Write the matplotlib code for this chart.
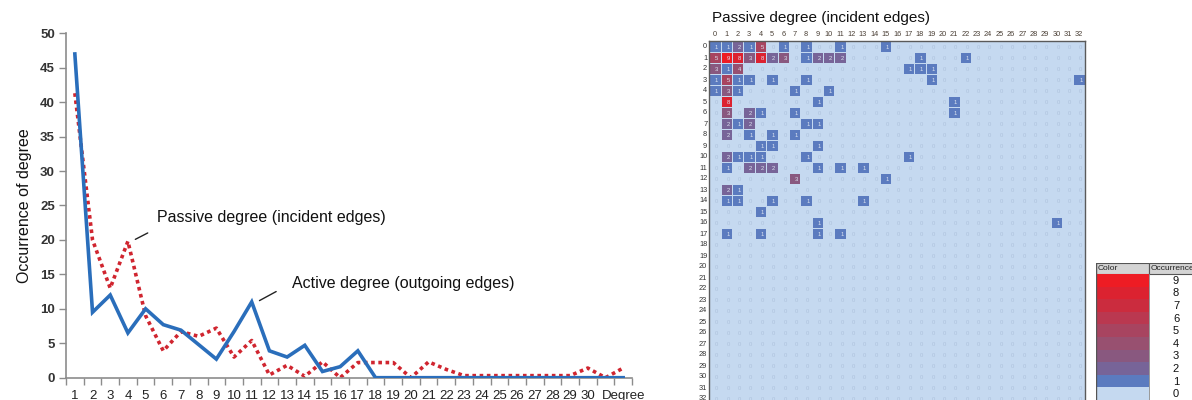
import numpy as np
import matplotlib
matplotlib.use("Agg")
import matplotlib.pyplot as plt
from matplotlib.colors import ListedColormap, BoundaryNorm
from matplotlib.patches import Rectangle

plt.rcParams['font.family'] = ['Liberation Sans', 'DejaVu Sans']

# ---------------- data: degree distribution ----------------
degree_labels = [str(i) for i in range(1, 31)] + ['', 'Degree']
active_degree = [47, 9.5, 12, 6.5, 10, 7.7, 6.9, 4.8, 2.7, 6.7, 11, 3.9, 3.0, 4.7, 0.9, 1.6,
                 3.9, 0, 0, 0, 0, 0, 0, 0, 0, 0, 0, 0, 0, 0, 0, 0]
passive_degree = [41.3, 20, 13, 19.8, 9, 3.9, 6.7, 6.0, 7.2, 3.0, 5.4, 0.4, 1.8, 0.2, 2.3, 0,
                  2.2, 2.2, 2.2, 0, 2.3, 1.2, 0.3, 0.3, 0.3, 0.3, 0.3, 0.3, 0.3, 1.4, 0, 1.4]

# ---------------- data: heatmap (rows: active degree, cols: passive degree) ----------------
heat_rows = [
    [1,1,2,1,5,0,1,0,1,0,0,1,0,0,0,1,0,0,0,0,0,0,0,0,0,0,0,0,0,0,0,0,0],
    [5,9,8,3,8,2,3,0,1,2,2,2,0,0,0,0,0,0,1,0,0,0,1,0,0,0,0,0,0,0,0,0,0],
    [3,1,4,0,0,0,0,0,0,0,0,0,0,0,0,0,0,1,1,1,0,0,0,0,0,0,0,0,0,0,0,0,0],
    [1,5,1,1,0,1,0,0,1,0,0,0,0,0,0,0,0,0,0,1,0,0,0,0,0,0,0,0,0,0,0,0,1],
    [1,3,1,0,0,0,0,1,0,0,1,0,0,0,0,0,0,0,0,0,0,0,0,0,0,0,0,0,0,0,0,0,0],
    [0,8,0,0,0,0,0,0,0,1,0,0,0,0,0,0,0,0,0,0,0,1,0,0,0,0,0,0,0,0,0,0,0],
    [0,3,0,2,1,0,0,1,0,0,0,0,0,0,0,0,0,0,0,0,0,1,0,0,0,0,0,0,0,0,0,0,0],
    [0,2,1,2,0,0,0,0,1,1,0,0,0,0,0,0,0,0,0,0,0,0,0,0,0,0,0,0,0,0,0,0,0],
    [0,2,0,1,0,1,0,1,0,0,0,0,0,0,0,0,0,0,0,0,0,0,0,0,0,0,0,0,0,0,0,0,0],
    [0,0,0,0,1,1,0,0,0,1,0,0,0,0,0,0,0,0,0,0,0,0,0,0,0,0,0,0,0,0,0,0,0],
    [0,2,1,1,1,0,0,0,1,0,0,0,0,0,0,0,0,1,0,0,0,0,0,0,0,0,0,0,0,0,0,0,0],
    [0,1,0,2,2,2,0,0,0,1,0,1,0,1,0,0,0,0,0,0,0,0,0,0,0,0,0,0,0,0,0,0,0],
    [0,0,0,0,0,0,0,3,0,0,0,0,0,0,0,1,0,0,0,0,0,0,0,0,0,0,0,0,0,0,0,0,0],
    [0,2,1,0,0,0,0,0,0,0,0,0,0,0,0,0,0,0,0,0,0,0,0,0,0,0,0,0,0,0,0,0,0],
    [0,1,1,0,0,1,0,0,1,0,0,0,0,1,0,0,0,0,0,0,0,0,0,0,0,0,0,0,0,0,0,0,0],
    [0,0,0,0,1,0,0,0,0,0,0,0,0,0,0,0,0,0,0,0,0,0,0,0,0,0,0,0,0,0,0,0,0],
    [0,0,0,0,0,0,0,0,0,1,0,0,0,0,0,0,0,0,0,0,0,0,0,0,0,0,0,0,0,0,1,0,0],
    [0,1,0,0,1,0,0,0,0,1,0,1,0,0,0,0,0,0,0,0,0,0,0,0,0,0,0,0,0,0,0,0,0],
    [0,0,0,0,0,0,0,0,0,0,0,0,0,0,0,0,0,0,0,0,0,0,0,0,0,0,0,0,0,0,0,0,0],
    [0,0,0,0,0,0,0,0,0,0,0,0,0,0,0,0,0,0,0,0,0,0,0,0,0,0,0,0,0,0,0,0,0],
    [0,0,0,0,0,0,0,0,0,0,0,0,0,0,0,0,0,0,0,0,0,0,0,0,0,0,0,0,0,0,0,0,0],
    [0,0,0,0,0,0,0,0,0,0,0,0,0,0,0,0,0,0,0,0,0,0,0,0,0,0,0,0,0,0,0,0,0],
    [0,0,0,0,0,0,0,0,0,0,0,0,0,0,0,0,0,0,0,0,0,0,0,0,0,0,0,0,0,0,0,0,0],
    [0,0,0,0,0,0,0,0,0,0,0,0,0,0,0,0,0,0,0,0,0,0,0,0,0,0,0,0,0,0,0,0,0],
    [0,0,0,0,0,0,0,0,0,0,0,0,0,0,0,0,0,0,0,0,0,0,0,0,0,0,0,0,0,0,0,0,0],
    [0,0,0,0,0,0,0,0,0,0,0,0,0,0,0,0,0,0,0,0,0,0,0,0,0,0,0,0,0,0,0,0,0],
    [0,0,0,0,0,0,0,0,0,0,0,0,0,0,0,0,0,0,0,0,0,0,0,0,0,0,0,0,0,0,0,0,0],
    [0,0,0,0,0,0,0,0,0,0,0,0,0,0,0,0,0,0,0,0,0,0,0,0,0,0,0,0,0,0,0,0,0],
    [0,0,0,0,0,0,0,0,0,0,0,0,0,0,0,0,0,0,0,0,0,0,0,0,0,0,0,0,0,0,0,0,0],
    [0,0,0,0,0,0,0,0,0,0,0,0,0,0,0,0,0,0,0,0,0,0,0,0,0,0,0,0,0,0,0,0,0],
    [0,0,0,0,0,0,0,0,0,0,0,0,0,0,0,0,0,0,0,0,0,0,0,0,0,0,0,0,0,0,0,0,0],
    [0,0,0,0,0,0,0,0,0,0,0,0,0,0,0,0,0,0,0,0,0,0,0,0,0,0,0,0,0,0,0,0,0],
    [0,0,0,0,0,0,0,0,0,0,0,0,0,0,0,0,0,0,0,0,0,0,0,0,0,0,0,0,0,0,0,0,0],
]
heat_col_labels = [str(i) for i in range(33)]
heat_row_labels = [str(i) for i in range(33)]

legend_values = [9, 8, 7, 6, 5, 4, 3, 2, 1, 0]
level_colors = ['#C5D9F0', '#5B7BBF', '#776498', '#89587F', '#985070', '#A84460',
                '#BA3850', '#CB2C3E', '#DC2230', '#EE1C24']  # for 0..9

# ---------------- figure ----------------
W, H = 1192, 400
fig = plt.figure(figsize=(W / 100, H / 100), dpi=100)

def px_axes(x0, y0, x1, y1):
    return fig.add_axes([x0 / W, 1 - y1 / H, (x1 - x0) / W, (y1 - y0) / H])

# ---------------- left: line chart ----------------
ax = px_axes(66, 33.3, 632, 377.7)
x = np.arange(1, len(degree_labels) + 1)
ax.plot(x, active_degree, color='#2A6EBB', lw=2.6, solid_joinstyle='miter', zorder=3)
ax.plot(x, passive_degree, color='#D0252F', lw=2.6, linestyle=(0, (1.0, 1.0)),
        dash_capstyle='butt', zorder=2)

ax.set_xlim(0.5, len(degree_labels) + 0.5)
ax.set_ylim(0, 50)
ax.set_yticks(np.arange(0, 51, 5))
ax.set_xticks(x)
ax.set_xticklabels(degree_labels)
ax.set_xticks(np.arange(0.5, len(degree_labels) + 1, 1), minor=True)
ax.tick_params(axis='x', which='major', length=0, pad=9, labelsize=9.5, colors='#222222')
ax.tick_params(axis='x', which='minor', length=5, width=1, color='#8C8C8C', direction='out')
ax.tick_params(axis='y', length=5, width=1, color='#8C8C8C', labelsize=9.5,
               labelcolor='#333333', pad=3)
for lab in ax.get_yticklabels():
    lab.set_fontweight('bold')
for s in ['top', 'right']:
    ax.spines[s].set_visible(False)
for s in ['left', 'bottom']:
    ax.spines[s].set_color('#8C8C8C')
    ax.spines[s].set_linewidth(1.2)
ax.set_ylabel('Occurrence of degree', fontsize=11.5, color='#111111', labelpad=6)
ax.patch.set_alpha(0)

ax.annotate('', xy=(4.28, 19.9), xytext=(5.26, 21.2),
            arrowprops=dict(arrowstyle='-', color='#222222', lw=1))
ax.text(5.65, 23.3, 'Passive degree (incident edges)', fontsize=11.5, color='#111111',
        va='center', ha='left')
ax.annotate('', xy=(11.3, 11.0), xytext=(12.52, 12.7),
            arrowprops=dict(arrowstyle='-', color='#222222', lw=1))
ax.text(13.3, 13.7, 'Active degree (outgoing edges)', fontsize=11.5, color='#111111',
        va='center', ha='left')

# ---------------- right: heatmap ----------------
mat = np.array(heat_rows)
nr, nc = mat.shape
hx0, hy0 = 709.3, 40.5
cw, ch = 11.38, 11.0
hax = px_axes(hx0, hy0, hx0 + nc * cw, hy0 + nr * ch)
cmap = ListedColormap(level_colors)
norm = BoundaryNorm(np.arange(-0.5, 10.5, 1), cmap.N)
hax.pcolormesh(np.arange(nc + 1) - 0.5, np.arange(nr + 1) - 0.5, mat, cmap=cmap, norm=norm,
               edgecolors='#C5D9F0', linewidth=0.4)
hax.set_xlim(-0.5, nc - 0.5)
hax.set_ylim(nr - 0.5, -0.5)
for r in range(nr):
    for c in range(nc):
        v = mat[r, c]
        hax.text(c + 0.15, r + 0.1, str(v), ha='center', va='center', fontsize=4.2,
                 color=('#AEC2DC' if v == 0 else '#DCE3F0'))
hax.xaxis.tick_top()
hax.set_xticks(np.arange(nc))
hax.set_xticklabels(heat_col_labels)
hax.set_yticks(np.arange(nr))
hax.set_yticklabels(heat_row_labels)
hax.tick_params(axis='x', length=0, pad=1.5, labelsize=5.3, labelcolor='#4A3F35')
hax.tick_params(axis='y', length=0, pad=1.5, labelsize=5.3, labelcolor='#333333')
for s in ['top', 'right', 'left']:
    hax.spines[s].set_color('#5A5A5A')
    hax.spines[s].set_linewidth(1)
hax.spines['bottom'].set_visible(False)
fig.text(712 / W, 1 - 18 / H, 'Passive degree (incident edges)', fontsize=11,
         color='#111111', ha='left', va='center')

# ---------------- legend table ----------------
lax = px_axes(1096, 263, 1200, 400)
lax.set_xlim(0, 104)
lax.set_ylim(137, 0)
lax.axis('off')
head_h = 11
row_h = (137 - head_h) / len(legend_values)
col_w = 53
lax.add_patch(Rectangle((0, 0), col_w, head_h, facecolor='#D4D4D4', edgecolor='#555555', lw=0.8))
lax.add_patch(Rectangle((col_w, 0), 104 - col_w, head_h, facecolor='#D4D4D4', edgecolor='#555555', lw=0.8))
lax.text(2, head_h / 2 + 0.5, 'Color', fontsize=6, va='center', ha='left', color='#222222')
lax.text(col_w + 2, head_h / 2 + 0.5, 'Occurrence', fontsize=6, va='center', ha='left',
         color='#222222', clip_on=True)
for i, v in enumerate(legend_values):
    y0 = head_h + i * row_h
    lax.add_patch(Rectangle((0, y0), col_w, row_h, facecolor=level_colors[v],
                            edgecolor='none'))
    lax.text(80, y0 + row_h / 2 + 0.5, str(v), fontsize=8, ha='center', va='center',
             color='#111111')
lax.plot([col_w, col_w], [head_h, 137], color='#888888', lw=0.6)
lax.plot([0, 0], [0, 137], color='#555555', lw=1)

fig.savefig('out.png', dpi=100)
